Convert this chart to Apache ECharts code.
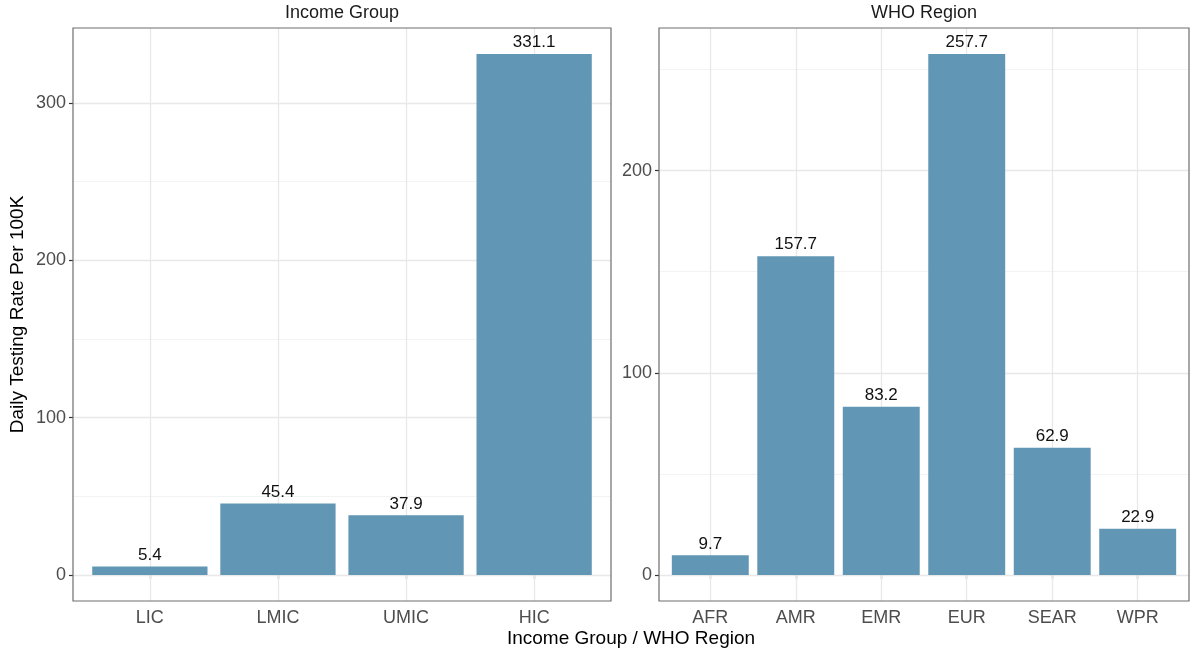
<!DOCTYPE html>
<html><head><meta charset="utf-8">
<script src="https://cdn.jsdelivr.net/npm/echarts@6/dist/echarts.min.js"></script>
<style>html,body{margin:0;padding:0;background:#fff}#c{width:1197px;height:652px}</style>
</head><body><div id="c"></div>
<script>
// ---- data ----
const incomeCategories = ['LIC', 'LMIC', 'UMIC', 'HIC'];
const incomeValues = [5.4, 45.4, 37.9, 331.1];
const whoCategories = ['AFR', 'AMR', 'EMR', 'EUR', 'SEAR', 'WPR'];
const whoValues = [9.7, 157.7, 83.2, 257.7, 62.9, 22.9];
const incomeMajorBreaks = [0, 100, 200, 300];
const incomeMinorBreaks = [50, 150, 250];
const whoMajorBreaks = [0, 100, 200];
const whoMinorBreaks = [50, 150, 250];
const panelTitles = ['Income Group', 'WHO Region'];
const xTitle = 'Income Group / WHO Region';
const yTitle = 'Daily Testing Rate Per 100K';

// ---- layout / style ----
const FONT = '"Liberation Sans", Arial, Helvetica, sans-serif';
const BAR = '#6197b5';
const TOP = 28, BOTTOM = 601;
const panels = [
  { cats: incomeCategories, vals: incomeValues, major: incomeMajorBreaks, minor: incomeMinorBreaks, title: panelTitles[0], left: 73, right: 611, split: 4 },
  { cats: whoCategories, vals: whoValues, major: whoMajorBreaks, minor: whoMinorBreaks, title: panelTitles[1], left: 659, right: 1189, split: 3 }
];

const grid = [], xAxis = [], yAxis = [], series = [], graphic = [];
panels.forEach((p, i) => {
  const W = p.right - p.left, H = BOTTOM - TOP;
  const n = p.cats.length;
  const u = W / (n + 0.2);
  const vmax = Math.max(...p.vals);
  const ymin = -0.05 * vmax, ymax = vmax * 1.05;
  const fg = 2 * i, bg = 2 * i + 1;
  grid.push({ left: p.left, top: TOP, width: W, height: H, show: true, borderColor: '#6e6e6e', borderWidth: 1.2, backgroundColor: 'transparent', containLabel: false, z: 5 });
  grid.push({ left: p.left + 0.1 * u, top: TOP, width: n * u, height: H, containLabel: false });
  xAxis.push({ type: 'value', gridIndex: fg, min: 0, max: 1, show: false });
  xAxis.push({
    type: 'category', gridIndex: bg, data: p.cats,
    axisLine: { show: false },
    axisTick: { show: true, alignWithLabel: true, length: 4, lineStyle: { color: '#333', width: 1.2 } },
    axisLabel: { color: '#4d4d4d', fontSize: 18, fontFamily: FONT, margin: 8 },
    splitLine: { show: false }
  });
  yAxis.push({
    type: 'value', gridIndex: fg, min: ymin, max: ymax, splitNumber: p.split,
    axisLine: { show: false },
    axisTick: { show: true, length: 4, customValues: p.major, lineStyle: { color: '#333', width: 1.2 } },
    axisLabel: { color: '#4d4d4d', fontSize: 18, fontFamily: FONT, margin: 7, customValues: p.major,
      formatter: v => String(Math.round(v)) },
    splitLine: { show: false },
    name: i === 0 ? yTitle : '', nameLocation: 'middle', nameGap: 46,
    nameTextStyle: { color: '#000', fontSize: 19, fontFamily: FONT }
  });
  yAxis.push({ type: 'value', gridIndex: bg, min: ymin, max: ymax, show: false });
  series.push({
    type: 'line', xAxisIndex: fg, yAxisIndex: fg, data: [], silent: true, z: 0,
    markLine: { silent: true, symbol: 'none', z: 0, animation: false, label: { show: false },
      data: p.minor.map(v => ({ yAxis: v, lineStyle: { color: '#f3f3f3', type: 'solid', width: 1 } }))
        .concat(p.major.map(v => ({ yAxis: v, lineStyle: { color: '#e8e8e8', type: 'solid', width: 1.3 } }))) }
  });
  series.push({
    type: 'bar', xAxisIndex: bg, yAxisIndex: bg, data: p.vals, barWidth: '90%', z: 3,
    itemStyle: { color: BAR },
    label: { show: true, position: 'top', distance: 3, color: '#111', fontSize: 17, fontFamily: FONT,
      formatter: d => Number(d.value).toFixed(1) },
    markLine: { silent: true, symbol: 'none', z: 1, animation: false, label: { show: false },
      lineStyle: { color: '#e8e8e8', type: 'solid', width: 1.3 },
      data: p.cats.map(c => ({ xAxis: c })) }
  });
  graphic.push({ type: 'text', style: { text: p.title, x: (p.left + p.right) / 2, y: 13, textAlign: 'center', textVerticalAlign: 'middle', fontSize: 18, fontFamily: FONT, fill: '#1a1a1a' } });
});
graphic.push({ type: 'text', style: { text: xTitle, x: (panels[0].left + panels[1].right) / 2, y: 639, textAlign: 'center', textVerticalAlign: 'middle', fontSize: 19, fontFamily: FONT, fill: '#000' } });

const chart = echarts.init(document.getElementById('c'), null, { renderer: 'canvas' });
chart.setOption({ animation: false, backgroundColor: '#fff', grid, xAxis, yAxis, series, graphic });
</script></body></html>
